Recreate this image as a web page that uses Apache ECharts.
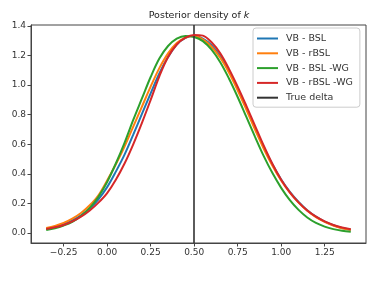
<!DOCTYPE html>
<html>
<head>
<meta charset="utf-8">
<script src="https://cdn.jsdelivr.net/npm/echarts@6/dist/echarts.min.js"></script>
<style>html,body{margin:0;padding:0;background:#fff}#c{width:372px;height:282px}</style>
</head>
<body>
<div id="c"></div>
<script>
const xs = [-0.35,-0.30,-0.25,-0.20,-0.15,-0.10,-0.05,0.00,0.05,0.10,0.15,0.20,0.25,0.30,0.35,0.40,0.45,0.50,0.55,0.60,0.65,0.70,0.75,0.80,0.85,0.90,0.95,1.00,1.05,1.10,1.15,1.20,1.25,1.30,1.35,1.40];
const vbBSL = [0.028,0.041,0.059,0.085,0.12,0.165,0.228,0.31,0.415,0.53,0.665,0.805,0.945,1.08,1.19,1.275,1.32,1.334,1.315,1.27,1.195,1.095,0.975,0.845,0.71,0.58,0.463,0.362,0.278,0.21,0.154,0.11,0.077,0.052,0.033,0.021];
const vbRBSL = [0.033,0.048,0.068,0.097,0.135,0.187,0.255,0.355,0.465,0.585,0.72,0.855,0.99,1.115,1.215,1.285,1.322,1.332,1.31,1.26,1.185,1.085,0.965,0.835,0.70,0.57,0.455,0.355,0.272,0.205,0.15,0.107,0.075,0.05,0.032,0.02];
const vbBSLWG = [0.02,0.032,0.05,0.075,0.115,0.17,0.245,0.345,0.47,0.61,0.765,0.91,1.055,1.18,1.265,1.315,1.333,1.326,1.298,1.24,1.155,1.045,0.92,0.785,0.65,0.52,0.405,0.305,0.222,0.156,0.105,0.068,0.043,0.026,0.015,0.008];
const vbRBSLWG = [0.027,0.038,0.054,0.078,0.11,0.152,0.205,0.27,0.36,0.47,0.60,0.745,0.90,1.06,1.19,1.275,1.322,1.34,1.335,1.29,1.215,1.11,0.99,0.86,0.725,0.59,0.466,0.36,0.275,0.207,0.152,0.11,0.078,0.054,0.037,0.025];
const trueDelta = 0.5;
const xTicks = [-0.25,0.00,0.25,0.50,0.75,1.00,1.25];
const yTicks = [0.0,0.2,0.4,0.6,0.8,1.0,1.2,1.4];
const names = ['VB - BSL','VB - rBSL','VB - BSL -WG','VB - rBSL -WG','True delta'];
const colors = ['#1f77b4','#ff7f0e','#2ca02c','#d62728','#333333'];

const pair = arr => xs.map((x,i)=>[x,arr[i]]);
const fmt = (v,d) => (v<0?'\u2212':'') + Math.abs(v).toFixed(d);
const font = 'DejaVu Sans';

const chart = echarts.init(document.getElementById('c'), null, {renderer:'canvas'});
const lineSeries = [vbBSL, vbRBSL, vbBSLWG, vbRBSLWG].map((arr,i)=>({
  name: names[i], type:'line', data: pair(arr), showSymbol:false, smooth:0.35,
  lineStyle:{width:2, color:colors[i]}, itemStyle:{color:colors[i]}, z: 2+i
}));
lineSeries.push({
  name: names[4], type:'line', data: [], showSymbol:false,
  lineStyle:{width:1.6,color:colors[4]}, itemStyle:{color:colors[4]},
  markLine:{silent:true, symbol:'none', label:{show:false},
    lineStyle:{color:colors[4], width:1.6, type:'solid'},
    data:[{xAxis: trueDelta}]}
});

chart.setOption({
  animation:false,
  backgroundColor:'#fff',
  title:{
    text:'{a|Posterior density of }{b|k}',
    left: 194, top: 6, textAlign:'center',
    textStyle:{fontWeight:'normal', rich:{
      a:{fontFamily:font, fontSize:9.5, color:'#222', fontWeight:'normal'},
      b:{fontFamily:font, fontSize:9.5, color:'#222', fontWeight:'normal', fontStyle:'italic'}
    }}
  },
  grid:{left:31, right:6, top:25, bottom:39, show:true, borderColor:'#444', borderWidth:1, backgroundColor:'transparent'},
  legend:{
    data: names, orient:'vertical', left:253, top:28,
    icon:'rect', itemWidth:21, itemHeight:2, itemGap:3.8,
    padding:[5,7,4,4],
    borderColor:'#cccccc', borderWidth:1, borderRadius:3, backgroundColor:'rgba(255,255,255,0.8)',
    textStyle:{fontFamily:font, fontSize:9.5, color:'#333', lineHeight:11, padding:[0,0,0,3]}
  },
  xAxis:{
    type:'value', min:-0.4375, max:1.4875,
    splitLine:{show:false},
    axisLine:{show:true, onZero:false, lineStyle:{color:'#444'}},
    axisTick:{show:true, length:3.5, customValues:xTicks, lineStyle:{color:'#444'}},
    axisLabel:{customValues:xTicks, formatter:v=>fmt(v,2), fontFamily:font, fontSize:9, color:'#333', margin:5}
  },
  yAxis:{
    type:'value', min:-0.068, max:1.407,
    splitLine:{show:false},
    axisLine:{show:true, onZero:false, lineStyle:{color:'#444'}},
    axisTick:{show:true, length:3.5, customValues:yTicks, lineStyle:{color:'#444'}},
    axisLabel:{customValues:yTicks, formatter:v=>fmt(v,1), fontFamily:font, fontSize:9, color:'#333', margin:5}
  },
  series: lineSeries
});
</script>
</body>
</html>
